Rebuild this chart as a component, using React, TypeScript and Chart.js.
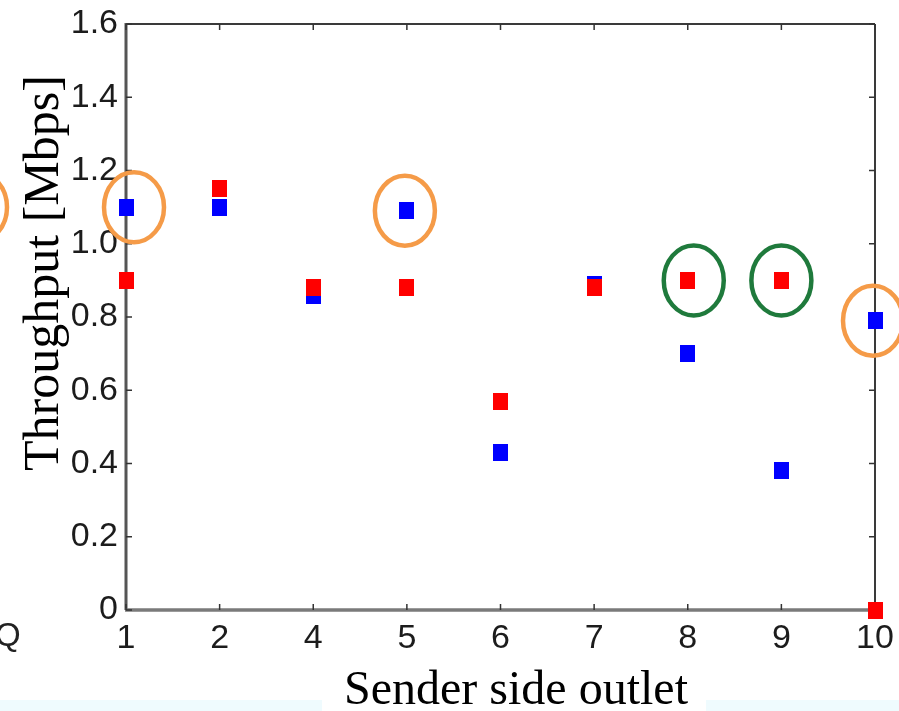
import React, { useEffect, useRef } from "react";
import { Chart, registerables } from "chart.js";

Chart.register(...registerables);

// ---- data ----
const categories = ["1", "2", "4", "5", "6", "7", "8", "9", "10"];
const blueValues = [1.1, 1.1, 0.86, 1.09, 0.43, 0.89, 0.7, 0.38, 0.79];
const redValues = [0.9, 1.15, 0.88, 0.88, 0.57, 0.88, 0.9, 0.9, 0.0];
const yTickValues = [0, 0.2, 0.4, 0.6, 0.8, 1.0, 1.2, 1.4, 1.6];
const orangeCircledBlue = ["1", "5", "10"];
const greenCircledRed = ["8", "9"];
const xTitle = "Sender side outlet";
const yTitle = "Throughput [Mbps]";

const SANS = '"Liberation Sans", Arial, Helvetica, sans-serif';
const SERIF = '"Liberation Serif", "Times New Roman", serif';

function makeMarker(color: string, w: number, h: number) {
  const c = document.createElement("canvas");
  c.width = w;
  c.height = h;
  const g = c.getContext("2d")!;
  g.fillStyle = color;
  g.fillRect(0, 0, w, h);
  return c;
}

function ring(ctx: CanvasRenderingContext2D, x: number, y: number, color: string) {
  ctx.beginPath();
  ctx.ellipse(x, y, 30, 35, 0, 0, Math.PI * 2);
  ctx.strokeStyle = color;
  ctx.lineWidth = 4.5;
  ctx.stroke();
}

const decorPlugin = {
  id: "decor",
  beforeDraw(chart: any) {
    const { ctx, width, height } = chart;
    ctx.save();
    ctx.fillStyle = "#ffffff";
    ctx.fillRect(0, 0, width, height);
    ctx.fillStyle = "#effbfe";
    ctx.fillRect(0, 700, 322, height - 700);
    ctx.fillRect(706, 700, width - 706, height - 700);
    ctx.restore();
  },
  beforeDatasetsDraw(chart: any) {
    const { ctx, chartArea } = chart;
    const { left, right, top, bottom } = chartArea;
    const xs = chart.scales.x;
    const ys = chart.scales.y;
    ctx.save();
    ctx.lineCap = "butt";
    ctx.strokeStyle = "#3a3a3a";
    ctx.lineWidth = 2;
    ctx.beginPath();
    ctx.moveTo(left, top);
    ctx.lineTo(right, top);
    ctx.moveTo(right, top);
    ctx.lineTo(right, bottom);
    ctx.stroke();
    ctx.strokeStyle = "#555";
    ctx.lineWidth = 3;
    ctx.beginPath();
    ctx.moveTo(left, top - 1);
    ctx.lineTo(left, bottom);
    ctx.stroke();
    ctx.strokeStyle = "#7a7a7a";
    ctx.lineWidth = 3.5;
    ctx.beginPath();
    ctx.moveTo(left - 1, bottom);
    ctx.lineTo(right + 1, bottom);
    ctx.stroke();
    ctx.strokeStyle = "#333";
    ctx.lineWidth = 1.5;
    ctx.beginPath();
    categories.forEach((_, i) => {
      const px = xs.getPixelForValue(i);
      ctx.moveTo(px, bottom);
      ctx.lineTo(px, bottom - 6);
      ctx.moveTo(px, top);
      ctx.lineTo(px, top + 6);
    });
    yTickValues.forEach((v) => {
      const py = ys.getPixelForValue(v);
      ctx.moveTo(left, py);
      ctx.lineTo(left + 6, py);
      ctx.moveTo(right, py);
      ctx.lineTo(right - 6, py);
    });
    ctx.stroke();
    ctx.restore();
  },
  afterDatasetsDraw(chart: any) {
    const { ctx, chartArea } = chart;
    const xs = chart.scales.x;
    const ys = chart.scales.y;
    ctx.save();
    orangeCircledBlue.forEach((cat, k) => {
      const i = categories.indexOf(cat);
      const dx = k === 0 ? 8 : -2;
      ring(ctx, xs.getPixelForValue(i) + dx, ys.getPixelForValue(blueValues[i]), "#f59b48");
    });
    greenCircledRed.forEach((cat, k) => {
      const i = categories.indexOf(cat);
      const dx = k === 0 ? 6 : 0;
      ring(ctx, xs.getPixelForValue(i) + dx, ys.getPixelForValue(redValues[i]), "#1f7a3c");
    });
    ring(ctx, chartArea.left - 149, ys.getPixelForValue(blueValues[0]), "#f59b48");

    ctx.fillStyle = "#000";
    ctx.font = `50px ${SERIF}`;
    ctx.textAlign = "center";
    ctx.textBaseline = "alphabetic";
    ctx.save();
    ctx.translate(58, ys.getPixelForValue(0.92));
    ctx.rotate(-Math.PI / 2);
    ctx.fillText(yTitle, 0, 0);
    ctx.restore();
    ctx.font = `48px ${SERIF}`;
    ctx.fillText(xTitle, 516, 704);

    ctx.fillStyle = "#222";
    ctx.font = `33px ${SANS}`;
    ctx.textAlign = "left";
    ctx.fillText("Q", -5, 646);
    ctx.restore();
  },
};

export default function App() {
  const ref = useRef<HTMLCanvasElement | null>(null);

  useEffect(() => {
    if (!ref.current) return;
    const redMarker = makeMarker("#ff0000", 15, 17);
    const blueMarker = makeMarker("#0000ff", 15, 17);
    const chart = new Chart(ref.current, {
      type: "line",
      data: {
        labels: categories,
        datasets: [
          {
            label: "red",
            data: redValues,
            showLine: false,
            pointStyle: redMarker as any,
            pointRadius: 8,
            pointHoverRadius: 8,
            borderColor: "#ff0000",
            backgroundColor: "#ff0000",
            clip: false as any,
            order: 0,
          },
          {
            label: "blue",
            data: blueValues,
            showLine: false,
            pointStyle: blueMarker as any,
            pointRadius: 8,
            pointHoverRadius: 8,
            borderColor: "#0000ff",
            backgroundColor: "#0000ff",
            clip: false as any,
            order: 1,
          },
        ],
      },
      options: {
        responsive: false,
        animation: false,
        devicePixelRatio: 1,
        events: [],
        layout: { padding: { top: 24, right: 24, left: 0, bottom: 0 } },
        plugins: {
          legend: { display: false },
          tooltip: { enabled: false },
          title: { display: false },
        },
        scales: {
          x: {
            type: "category",
            offset: false,
            grid: { display: false, drawTicks: false },
            border: { display: false },
            ticks: {
              autoSkip: false,
              maxRotation: 0,
              padding: 8,
              color: "#1c1c1c",
              font: { family: SANS, size: 34 },
            },
            afterFit: (s: any) => {
              s.height = 101;
              s.paddingLeft = 0;
              s.paddingRight = 0;
            },
          },
          y: {
            type: "linear",
            min: 0,
            max: 1.6,
            grid: { display: false, drawTicks: false },
            border: { display: false },
            afterBuildTicks: (s: any) => {
              s.ticks = yTickValues.map((v) => ({ value: v }));
            },
            ticks: {
              padding: 8,
              color: "#1c1c1c",
              font: { family: SANS, size: 34 },
              callback: (v: any) => (Number(v) === 0 ? "0" : Number(v).toFixed(1)),
            },
            afterFit: (s: any) => {
              s.width = 126;
              s.paddingTop = 0;
              s.paddingBottom = 0;
            },
          },
        },
      },
      plugins: [decorPlugin],
    });
    return () => chart.destroy();
  }, []);

  return (
    <div style={{ position: "fixed", left: 0, top: 0, width: 899, height: 711, background: "#fff" }}>
      <canvas ref={ref} width={899} height={711} style={{ width: 899, height: 711, display: "block" }} />
    </div>
  );
}
